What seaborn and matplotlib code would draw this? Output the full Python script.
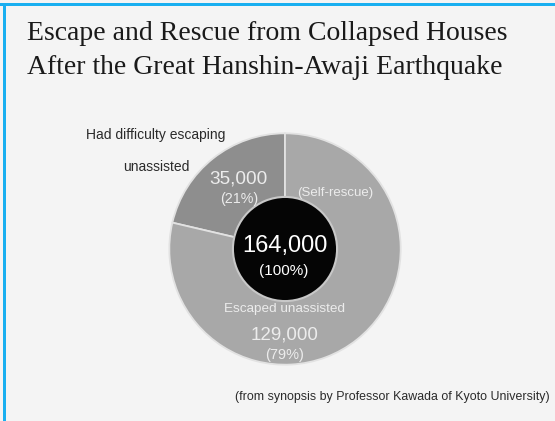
"""
Escape and rescue after the Great Hanshin-Awaji Earthquake - donut chart.
"""

import matplotlib
matplotlib.use("Agg")
import matplotlib.pyplot as plt
from matplotlib.patches import Rectangle
import seaborn as sns

# Datos
categories = ["Had difficulty escaping unassisted", "Escaped unassisted"]
values = [35000, 129000]
shares = ["(21%)", "(79%)"]
total = 164000
total_share = "(100%)"

sns.set_theme(style="white")
plt.rcParams["font.family"] = ["Liberation Sans", "DejaVu Sans"]

bg = "#f4f4f4"
ring_colors = ["#8e8e8e", "#a8a8a8"]
txt_light = "#ececec"

fig = plt.figure(figsize=(5.55, 4.21), dpi=100, facecolor=bg)

# ejes cuadrados en pixeles: centro (285, 249), radio 118
R = 118
cx, cy = 285, 249
ax = fig.add_axes([(cx - R) / 555, (421 - cy - R) / 421, 2 * R / 555, 2 * R / 421])
ax.set_facecolor(bg)

ax.pie(values, colors=ring_colors, startangle=90, counterclock=True, radius=1.0,
       wedgeprops=dict(edgecolor="#e2e2e2", linewidth=1.3))
ax.pie([total], colors=["#050505"], radius=0.45,
       wedgeprops=dict(edgecolor="#c8c8c8", linewidth=1.5))
ax.set_xlim(-1.02, 1.02)
ax.set_ylim(-1.02, 1.02)
ax.axis("off")


def pos(px, py):
    # pixel de la imagen -> coordenadas de datos
    return (px - cx) / R, (cy - py) / R


# textos dentro del anillo
ax.text(*pos(238, 178), f"{values[0]:,}", ha="center", va="center", fontsize=13.7, color=txt_light)
ax.text(*pos(238, 198), shares[0], ha="center", va="center", fontsize=10.3, color=txt_light)
ax.text(*pos(336, 192), "(Self-rescue)", ha="center", va="center", fontsize=9.5, color=txt_light)
ax.text(*pos(285, 246), f"{total:,}", ha="center", va="center", fontsize=17, color="white")
ax.text(*pos(284, 271), total_share, ha="center", va="center", fontsize=11, color="white")
ax.text(*pos(285, 310), categories[1], ha="center", va="center", fontsize=9.7, color=txt_light)
ax.text(*pos(285, 337), f"{values[1]:,}", ha="center", va="center", fontsize=13.5, color=txt_light)
ax.text(*pos(285, 357), shares[1], ha="center", va="center", fontsize=10.5, color=txt_light)

# etiqueta externa
fig.text(156 / 555, 1 - 135 / 421, "Had difficulty escaping", ha="center", va="center",
         fontsize=10, color="#2a2a2a")
fig.text(156 / 555, 1 - 167 / 421, "unassisted", ha="center", va="center",
         fontsize=10, color="#2a2a2a")

# titulo
serif = ["Liberation Serif", "DejaVu Serif"]
fig.text(27 / 555, 1 - 33 / 421, "Escape and Rescue from Collapsed Houses", ha="left",
         va="center", fontsize=20, color="#1a1a1a", family=serif)
fig.text(27 / 555, 1 - 67 / 421, "After the Great Hanshin-Awaji Earthquake", ha="left",
         va="center", fontsize=20, color="#1a1a1a", family=serif)

# fuente
fig.text(392 / 555, 1 - 397 / 421, "(from synopsis by Professor Kawada of Kyoto University)",
         ha="center", va="center", fontsize=8.9, color="#2a2a2a")

# borde azul arriba e izquierda
fig.add_artist(Rectangle((0, 1 - 6 / 421), 1, 3 / 421, transform=fig.transFigure,
                         color="#1aaff0", lw=0))
fig.add_artist(Rectangle((3 / 555, 0), 3 / 555, 1 - 3 / 421, transform=fig.transFigure,
                         color="#1aaff0", lw=0))

fig.savefig("out.png", dpi=100, facecolor=bg)
